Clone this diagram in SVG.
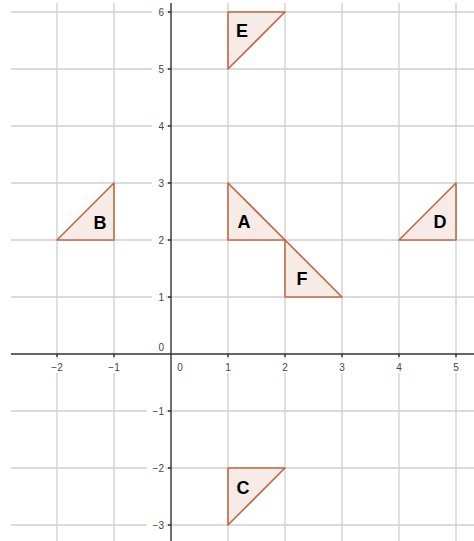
<svg xmlns="http://www.w3.org/2000/svg" width="474" height="541" viewBox="0 0 474 541">
<style>
.grid{stroke:#cfcfcf;stroke-width:1.3;fill:none}
.axis{stroke:#333;stroke-width:1.4;fill:none}
.tick{font-family:"Liberation Sans",Arial,sans-serif;font-size:10px;fill:#444}
.tri{fill:#f6ebe6;stroke:#c06a44;stroke-width:1.6;stroke-linejoin:round}
.lbl{font-family:"Liberation Sans",Arial,sans-serif;font-size:18px;font-weight:bold;fill:#000;text-anchor:middle}
.bg{fill:#ffffff}
</style>
<rect width="474" height="541" fill="#ffffff"/>
<g id="grid">
<path class="grid" d="M57 3V541M114 3V541M228 3V541M285 3V541M342 3V541M399 3V541M456 3V541"/>
<path class="grid" d="M11 12H474M11 69H474M11 126H474M11 183H474M11 240H474M11 297H474M11 411H474M11 468H474M11 525H474"/>
</g>
<g id="tick-labels">
<rect class="bg" x="152" y="5" width="14" height="14"/>
<rect class="bg" x="152" y="62" width="14" height="14"/>
<rect class="bg" x="152" y="119" width="14" height="14"/>
<rect class="bg" x="152" y="176" width="14" height="14"/>
<rect class="bg" x="152" y="233" width="14" height="14"/>
<rect class="bg" x="152" y="290" width="14" height="14"/>
<rect class="bg" x="147" y="404" width="19" height="14"/>
<rect class="bg" x="147" y="461" width="19" height="14"/>
<rect class="bg" x="147" y="518" width="19" height="14"/>
<rect class="bg" x="48" y="359" width="18" height="14"/>
<rect class="bg" x="105" y="359" width="18" height="14"/>
<rect class="bg" x="222" y="359" width="12" height="14"/>
<rect class="bg" x="279" y="359" width="12" height="14"/>
<rect class="bg" x="336" y="359" width="12" height="14"/>
<rect class="bg" x="393" y="359" width="12" height="14"/>
<rect class="bg" x="450" y="359" width="12" height="14"/>
<g class="tick" text-anchor="end">
<text x="164" y="16">6</text>
<text x="164" y="73">5</text>
<text x="164" y="130">4</text>
<text x="164" y="187">3</text>
<text x="164" y="244">2</text>
<text x="164" y="301">1</text>
<text x="164" y="351">0</text>
<text x="164" y="415">−1</text>
<text x="164" y="472">−2</text>
<text x="164" y="529">−3</text>
</g>
<g class="tick" text-anchor="middle">
<text x="57" y="371">−2</text>
<text x="114" y="371">−1</text>
<text x="180" y="371">0</text>
<text x="228" y="371">1</text>
<text x="285" y="371">2</text>
<text x="342" y="371">3</text>
<text x="399" y="371">4</text>
<text x="456" y="371">5</text>
</g>
</g>
<g id="axes">
<path class="axis" d="M11 354H474M171 3V541"/>
<path class="axis" d="M57 354v3M114 354v3M228 354v3M285 354v3M342 354v3M399 354v3M456 354v3"/>
<path class="axis" d="M168 12h3M168 69h3M168 126h3M168 183h3M168 240h3M168 297h3M168 411h3M168 468h3M168 525h3"/>
</g>
<g id="A"><polygon class="tri" points="228,240 228,183 285,240"/><text class="lbl" x="244" y="228">A</text></g>
<g id="B"><polygon class="tri" points="57,240 114,183 114,240"/><text class="lbl" x="100" y="229">B</text></g>
<g id="C"><polygon class="tri" points="228,468 285,468 228,525"/><text class="lbl" x="243" y="494">C</text></g>
<g id="D"><polygon class="tri" points="399,240 456,183 456,240"/><text class="lbl" x="440" y="228">D</text></g>
<g id="E"><polygon class="tri" points="228,12 285,12 228,69"/><text class="lbl" x="242" y="37">E</text></g>
<g id="F"><polygon class="tri" points="285,240 285,297 342,297"/><text class="lbl" x="302" y="285">F</text></g>
</svg>
